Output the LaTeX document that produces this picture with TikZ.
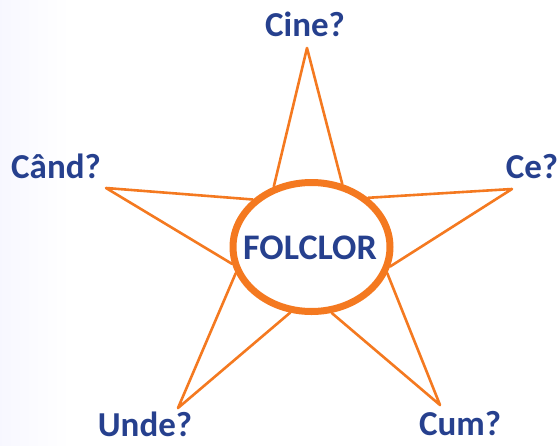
\documentclass[tikz,border=0pt]{standalone}
\usepackage{fontspec}
\setmainfont{Carlito}
\usetikzlibrary{shapes.geometric}
\definecolor{starorange}{RGB}{244,121,32}
\definecolor{folkblue}{RGB}{38,64,142}

\begin{document}
\begin{tikzpicture}[
    x=1pt, y=-1pt,
    question/.style={anchor=base, inner sep=0pt, text=folkblue, font=\fontsize{35}{40}\selectfont\bfseries},
    centre/.style={ellipse, draw=starorange, line width=7pt, fill=white, inner sep=0pt, minimum width=157pt, minimum height=129pt},
    title/.style={inner sep=0pt, text=folkblue, font=\fontsize{36}{40}\selectfont\bfseries},
    ray/.style={draw=starorange, line width=2.6pt, line join=round, line cap=round}
]
    \useasboundingbox (0,0) rectangle (560,445);
    \fill[left color=blue!3, right color=white] (0,0) rectangle (70,445);

    \node[centre] (folclor) at (311.5,247) {};
    \node[title] (folclortext) at (310,248) {FOLCLOR};

    \coordinate (tipcine) at (307,48);
    \coordinate (tipcand) at (106,188);
    \coordinate (tipce) at (512,189);
    \coordinate (tipunde) at (178,408);
    \coordinate (tipcum) at (440,405);

    \node[question] (cine) at (305,36) {Cine?};
    \node[question] (cand) at (56,178) {Când?};
    \node[question] (ce) at (532,178) {Ce?};
    \node[question] (unde) at (145,436) {Unde?};
    \node[question] (cum) at (460,435) {Cum?};

    \draw[ray] (folclor.122) -- (tipcine) -- (folclor.64);
    \draw[ray] (folclor.141) -- (tipcand) -- (folclor.192);
    \draw[ray] (folclor.41) -- (tipce) -- (folclor.-14);
    \draw[ray] (folclor.199) -- (tipunde) -- (folclor.252);
    \draw[ray] (folclor.-19) -- (tipcum) -- (folclor.-73);
\end{tikzpicture}
\end{document}
